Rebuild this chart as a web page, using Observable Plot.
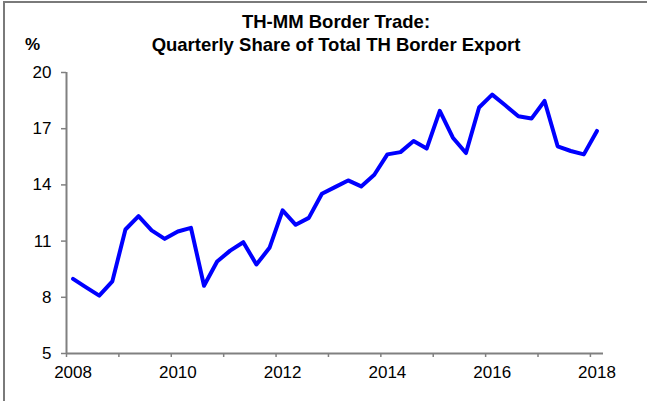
<!DOCTYPE html>
<html><head><meta charset="utf-8">
<script src="https://cdn.jsdelivr.net/npm/d3@7"></script>
<script src="https://cdn.jsdelivr.net/npm/@observablehq/plot@0.6"></script>
<style>
body{margin:0;background:#fff;}
#wrap{position:relative;width:647px;height:401px;overflow:hidden;font-family:"Liberation Sans",Arial,sans-serif;color:#000;}
#frame{position:absolute;left:3px;top:1px;width:700px;height:500px;border-top:2px solid #7a7a7a;border-left:2px solid #7a7a7a;}
#title{position:absolute;left:86px;width:500px;top:10px;text-align:center;font-weight:bold;font-size:18.5px;line-height:23px;}
#unit{position:absolute;left:25px;top:36px;font-weight:bold;font-size:17px;line-height:17px;}
#chart{position:absolute;left:0;top:0;}
</style>
</head><body>
<div id="wrap">
  <div id="frame"></div>
  <div id="chart"></div>
  <div id="title">TH-MM Border Trade:<br>Quarterly Share of Total TH Border Export</div>
  <div id="unit">%</div>
</div>
<script>
const quarters = ["2008Q1","2008Q2","2008Q3","2008Q4","2009Q1","2009Q2","2009Q3","2009Q4",
  "2010Q1","2010Q2","2010Q3","2010Q4","2011Q1","2011Q2","2011Q3","2011Q4",
  "2012Q1","2012Q2","2012Q3","2012Q4","2013Q1","2013Q2","2013Q3","2013Q4",
  "2014Q1","2014Q2","2014Q3","2014Q4","2015Q1","2015Q2","2015Q3","2015Q4",
  "2016Q1","2016Q2","2016Q3","2016Q4","2017Q1","2017Q2","2017Q3","2017Q4","2018Q1"];
const shares = [8.98,8.53,8.09,8.85,11.62,12.33,11.57,11.12,
  11.51,11.71,8.62,9.91,10.49,10.94,9.75,10.64,
  12.64,11.87,12.24,13.53,13.88,14.24,13.92,14.54,
  15.63,15.75,16.34,15.94,17.95,16.52,15.70,18.13,
  18.82,18.25,17.66,17.54,18.48,16.06,15.81,15.63,16.88];
const yTicks = [5,8,11,14,17,20];
const tickYears = [2008,2009,2010,2011,2012,2013,2014,2015,2016,2017,2018];
const labelYears = [2008,2010,2012,2014,2016,2018];

// quarter position: year + (q-1)/4 + half a quarter
const qPos = s => +s.slice(0,4) + (+s.slice(5) - 1) / 4 + 0.125;
const data = quarters.map((q, i) => ({x: qPos(q), y: shares[i]}));

const chart = Plot.plot({
  width: 647,
  height: 401,
  marginLeft: 66,
  marginRight: 44,
  marginTop: 72,
  marginBottom: 48,
  style: {fontFamily: '"Liberation Sans", Arial, sans-serif', color: "#000", background: "transparent"},
  x: {domain: [2008, 2018.25], axis: null},
  y: {domain: [5, 20], axis: null},
  marks: [
    Plot.axisY({ticks: yTicks, label: null, tickSize: 5, tickPadding: 10, fontSize: 17, stroke: "#808080", strokeWidth: 1.5}),
    Plot.axisX({ticks: tickYears, label: null, tickSize: 4, tickFormat: () => "", stroke: "#808080", strokeWidth: 1.5}),
    Plot.axisX({ticks: labelYears.map(y => y + 0.125), label: null, tickSize: 0, tickPadding: 12, fontSize: 17, tickFormat: d => String(Math.floor(d))}),
    Plot.ruleY([5], {stroke: "#808080", strokeWidth: 2}),
    Plot.ruleX([2008], {stroke: "#808080", strokeWidth: 2}),
    Plot.line(data, {x: "x", y: "y", stroke: "#0000ff", strokeWidth: 4})
  ]
});
document.getElementById("chart").appendChild(chart);
</script>
</body></html>
